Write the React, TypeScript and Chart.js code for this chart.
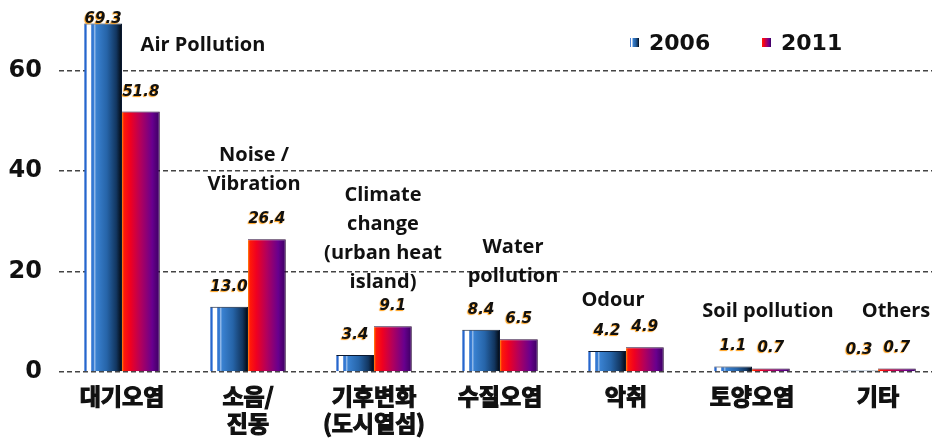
import React, { useEffect, useRef } from "react";
import { Chart, registerables } from "chart.js";

Chart.register(...registerables);

const categories: string[][] = [
  ["대기오염"],
  ["소음/", "진동"],
  ["기후변화", "(도시열섬)"],
  ["수질오염"],
  ["악취"],
  ["토양오염"],
  ["기타"],
];
const series2006 = [69.3, 13.0, 3.4, 8.4, 4.2, 1.1, 0.3];
const series2011 = [51.8, 26.4, 9.1, 6.5, 4.9, 0.7, 0.7];
const seriesLabels = ["2006", "2011"];
const yTicks = [0, 20, 40, 60];
const englishNotes: string[][] = [
  ["Air Pollution"],
  ["Noise /", "Vibration"],
  ["Climate", "change", "(urban heat", "island)"],
  ["Water", "pollution"],
  ["Odour"],
  ["Soil pollution"],
  ["Others"],
];

const CAT_PCT = 0.6;
const stops2006: [number, string][] = [
  [0, "#1f5fc8"],
  [0.05, "#2a6ad0"],
  [0.08, "#ffffff"],
  [0.17, "#ffffff"],
  [0.2, "#2f73d0"],
  [0.25, "#3a7fd4"],
  [0.28, "#a9c8ee"],
  [0.31, "#3a82d2"],
  [0.6, "#2664a8"],
  [0.85, "#123660"],
  [1, "#02060c"],
];
const stops2011: [number, string][] = [
  [0, "#ff8a10"],
  [0.05, "#ff1a08"],
  [0.22, "#f00020"],
  [0.5, "#b0005e"],
  [0.8, "#68008e"],
  [1, "#3a0060"],
];

function makeGradient(chart: any, left: number, width: number, stops: [number, string][]) {
  const g = chart.ctx.createLinearGradient(left, 0, left + width, 0);
  stops.forEach(([o, c]) => g.addColorStop(o, c));
  return g;
}

function barFill(stops: [number, string][], side: number) {
  return (ctx: any) => {
    const chart = ctx.chart;
    const xs = chart.scales && chart.scales.x;
    if (!chart.chartArea || !xs || ctx.dataIndex === undefined) return stops[2][1];
    const center = xs.getPixelForValue(ctx.dataIndex);
    const w = (xs.width / categories.length) * CAT_PCT / 2;
    const left = side === 0 ? center - w : center;
    return makeGradient(chart, left, w, stops);
  };
}

// text notes placement: dx from category centre (px), first line centre y (px)
const noteLayout = [
  { dx: 81, y: 45 },
  { dx: 6, y: 155 },
  { dx: 9, y: 195 },
  { dx: 13, y: 247 },
  { dx: -13, y: 300 },
  { dx: 16, y: 311 },
  { dx: 18, y: 311 },
];

const annotationsPlugin = {
  id: "notes",
  afterDatasetsDraw(chart: any) {
    const ctx = chart.ctx;
    const xs = chart.scales.x;
    // value labels
    ctx.save();
    ctx.font = "italic bold 15px 'DejaVu Sans'";
    ctx.textAlign = "center";
    ctx.textBaseline = "alphabetic";
    chart.data.datasets.forEach((ds: any, di: number) => {
      const meta = chart.getDatasetMeta(di);
      meta.data.forEach((el: any, i: number) => {
        const v = ds.data[i];
        const y = Math.max(el.y - 16, 23);
        ctx.shadowColor = "rgba(255,150,0,0.9)";
        ctx.shadowOffsetX = -1;
        ctx.shadowOffsetY = 1;
        ctx.shadowBlur = 1;
        ctx.fillStyle = "#111";
        ctx.fillText(v.toFixed(1), el.x, y);
      });
    });
    ctx.restore();

    // english notes
    ctx.save();
    ctx.font = "bold 20px 'Open Sans'";
    ctx.fillStyle = "#111";
    ctx.textAlign = "center";
    ctx.textBaseline = "middle";
    englishNotes.forEach((lines, i) => {
      const lay = noteLayout[i];
      const cx = xs.getPixelForValue(i) + lay.dx;
      lines.forEach((t, k) => {
        ctx.fillText(t, cx, lay.y + k * 29);
      });
    });
    ctx.restore();

    // legend
    ctx.save();
    const ca = chart.chartArea;
    const items = [
      { x: ca.right - 311, stops: stops2006 },
      { x: ca.right - 179, stops: stops2011 },
    ];
    ctx.font = "bold 22px 'DejaVu Sans'";
    ctx.textBaseline = "middle";
    ctx.textAlign = "left";
    items.forEach((it, k) => {
      ctx.fillStyle = makeGradient(chart, it.x, 9, it.stops);
      ctx.fillRect(it.x, 38, 9, 9);
      ctx.fillStyle = "#111";
      ctx.fillText(seriesLabels[k], it.x + 19, 44);
    });
    ctx.restore();
  },
};

export default function App() {
  const ref = useRef<HTMLCanvasElement | null>(null);
  useEffect(() => {
    if (!ref.current) return;
    const chart = new Chart(ref.current, {
      type: "bar",
      data: {
        labels: categories,
        datasets: [
          {
            label: seriesLabels[0],
            data: series2006,
            backgroundColor: barFill(stops2006, 0),
            borderColor: "#0a1830",
            borderWidth: { top: 1, right: 1, left: 0, bottom: 0 },
            barPercentage: 1,
            categoryPercentage: CAT_PCT,
          },
          {
            label: seriesLabels[1],
            data: series2011,
            backgroundColor: barFill(stops2011, 1),
            borderColor: "#2a0838",
            borderWidth: { top: 1, right: 1, left: 0, bottom: 0 },
            barPercentage: 1,
            categoryPercentage: CAT_PCT,
          },
        ],
      },
      options: {
        responsive: false,
        animation: false,
        layout: { padding: { top: 10, right: 4, left: 0, bottom: 0 } },
        plugins: {
          legend: { display: false },
          tooltip: { enabled: false },
        },
        scales: {
          x: {
            grid: { display: false },
            border: { display: false },
            ticks: {
              font: { family: "'Noto Sans CJK KR'", weight: "bold", size: 23, lineHeight: 1.2 },
              color: "#111",
              textStrokeColor: "#111",
              textStrokeWidth: 1.2,
              padding: 2,
              maxRotation: 0,
              autoSkip: false,
            },
            afterFit: (s: any) => {
              s.height = 67;
              s.paddingLeft = 0;
              s.paddingRight = 0;
            },
          },
          y: {
            min: 0,
            max: 72,
            ticks: {
              stepSize: 20,
              font: { family: "'DejaVu Sans'", weight: "bold", size: 24 },
              color: "#111",
              padding: 17,
              callback: (v: any) => (yTicks.includes(Number(v)) ? String(v) : ""),
            },
            grid: {
              drawTicks: false,
              lineWidth: 1.5,
              color: (c: any) => (c.tick && yTicks.includes(c.tick.value) ? "#444" : "rgba(0,0,0,0)"),
            },
            border: { display: false, dash: [5, 3] },
            afterFit: (s: any) => {
              s.width = 59;
              s.paddingTop = 0;
              s.paddingBottom = 0;
            },
          },
        },
      },
      plugins: [annotationsPlugin],
    });
    return () => chart.destroy();
  }, []);
  return (
    <div
      style={{
        position: "fixed",
        left: 0,
        top: 0,
        width: 932,
        height: 439,
        overflow: "hidden",
        background: "#fff",
      }}
    >
      <canvas ref={ref} width={945} height={439} style={{ display: "block", width: 945, height: 439 }} />
    </div>
  );
}
